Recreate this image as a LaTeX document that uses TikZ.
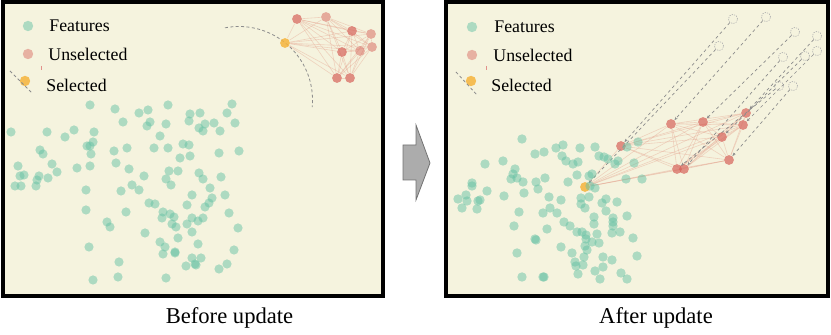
\documentclass[tikz,border=0pt]{standalone}
\usepackage{fontspec}
\setmainfont{Liberation Serif}
\usetikzlibrary{arrows.meta}
\pgfdeclarelayer{back}
\pgfdeclarelayer{bg}
\pgfsetlayers{back,bg,main}
\definecolor{paper}{RGB}{245,243,222}
\definecolor{featgreen}{RGB}{102,194,165}
\definecolor{unsel}{RGB}{214,98,90}
\definecolor{selcol}{RGB}{246,180,60}
\definecolor{edgecol}{RGB}{228,160,140}
\definecolor{ghostgray}{RGB}{120,120,120}
\tikzset{
  panel/.style={draw=black, line width=2pt, fill=paper},
  gfill/.style={fill=featgreen, fill opacity=0.5},
  reddot/.style={circle, inner sep=0pt, minimum size=4.9pt, fill=unsel, fill opacity=0.7, draw=none},
  lightred/.style={reddot, fill opacity=0.5},
  legred/.style={reddot, minimum size=5.2pt, fill opacity=0.45},
  seldot/.style={circle, inner sep=0pt, minimum size=4.9pt, fill=selcol, fill opacity=0.85, draw=none},
  legsel/.style={seldot, minimum size=5.2pt},
  ghost/.style={circle, inner sep=0pt, minimum size=4.6pt, draw=ghostgray!60, line width=0.3pt, dash pattern=on 0.6pt off 0.6pt},
  cedge/.style={draw=edgecol, line width=0.3pt, draw opacity=0.4},
  moveline/.style={draw=ghostgray!85, line width=0.35pt, dash pattern=on 1.5pt off 1.5pt, -{Stealth[length=1.6pt,width=1.4pt]}},
  arcline/.style={draw=ghostgray!85, line width=0.4pt, dash pattern=on 1.5pt off 1.2pt},
  legtext/.style={anchor=base west, inner sep=0pt, font=\fontsize{8.9}{10}\selectfont},
  captext/.style={anchor=base, inner sep=0pt, font=\fontsize{11.3}{13}\selectfont},
}
\begin{document}
\begin{tikzpicture}[x=0.5pt, y=-0.5pt]
\useasboundingbox (0,0) rectangle (831,335);
% panels
\begin{pgfonlayer}{back}
\draw[panel] (2.5,2.5) rectangle (383,296);
\draw[panel] (446,2.5) rectangle (828,296);
\end{pgfonlayer}
% middle arrow
\draw[fill=gray!65, draw=gray!90!black, line width=0.4pt] (403,145) -- (416,145) -- (416,125) -- (430,163) -- (416,200) -- (416,180) -- (403,180) -- cycle;
% captions
\node[captext] (capA) at (229.5,323.5) {Before update};
\node[captext] (capB) at (656,323.5) {After update};
% legends
\fill[gfill] (28,26) circle[radius=2.6pt];
\node[legred] (legUa) at (28,54) {};
\node[legsel] (legSa) at (25,81) {};
\coordinate (dla) at (10,71); \coordinate (dlb) at (32,93);
\draw[arcline] (dla) -- (dlb);
\coordinate (rta) at (41,66); \coordinate (rtb) at (41,70);
\draw[draw=unsel!70, line width=0.5pt] (rta) -- (rtb);
\node[legtext] (legFa) at (49,31.5) {Features};
\node[legtext] (legUta) at (48,60.5) {Unselected};
\node[legtext] (legSta) at (46,91.5) {Selected};
\fill[gfill] (472,27) circle[radius=2.6pt];
\node[legred] (legUb) at (472,55) {};
\node[legsel] (legSb) at (471,81) {};
\coordinate (dlc) at (456,72); \coordinate (dld) at (477,95);
\draw[arcline] (dlc) -- (dld);
\coordinate (rtc) at (486,66); \coordinate (rtd) at (486,70);
\draw[draw=unsel!70, line width=0.5pt] (rtc) -- (rtd);
\node[legtext] (legFb) at (494,32.5) {Features};
\node[legtext] (legUtb) at (493,61.5) {Unselected};
\node[legtext] (legStb) at (491,92) {Selected};
% left dashed arc
\draw[arcline] plot[domain=259:365.5, samples=50] ({239+73.5*cos(\x)},{100+73.5*sin(\x)});
% left cluster
\node[seldot] (L0) at (285,43) {};
\node[reddot] (L1) at (297,19) {};
\node[lightred] (L2) at (326,17) {};
\node[reddot] (L3) at (352,31) {};
\node[lightred] (L4) at (371,34) {};
\node[lightred] (L5) at (372,47) {};
\node[lightred] (L6) at (360,51) {};
\node[reddot] (L7) at (342,52) {};
\node[reddot] (L8) at (337,78) {};
\node[reddot] (L9) at (350,78) {};
% right cluster
\node[seldot] (R0) at (585,187) {};
\node[reddot] (R1) at (621,146) {};
\node[reddot] (R2) at (671,124) {};
\node[reddot] (R3) at (703,122) {};
\node[reddot] (R4) at (746,113) {};
\node[reddot] (R5) at (743,125) {};
\node[reddot] (R6) at (722,137) {};
\node[reddot] (R7) at (684,169) {};
\node[reddot] (R8) at (677,169) {};
\node[reddot] (R9) at (729,160) {};
% ghosts
\node[ghost] (G0) at (719,46) {};
\node[ghost] (G1) at (733,19) {};
\node[ghost] (G2) at (766,17) {};
\node[ghost] (G3) at (795,32) {};
\node[ghost] (G4) at (817,36) {};
\node[ghost] (G5) at (817,51) {};
\node[ghost] (G6) at (805,56) {};
\node[ghost] (G7) at (783,57) {};
\node[ghost] (G8) at (779,86) {};
\node[ghost] (G9) at (793,86) {};
\begin{pgfonlayer}{bg}
\foreach \i in {0,...,9} {
  \foreach \j in {\i,...,9} {
    \ifnum\i<\j
      \draw[cedge] (L\i) -- (L\j);
      \draw[cedge] (R\i) -- (R\j);
    \fi
  }
}
\end{pgfonlayer}
\foreach \i in {0,...,9} {
  \draw[moveline] (G\i) -- (R\i);
}
% left green features
\foreach \x/\y in {90/105,115/109,139/113,148/110,168/105,232/104,200/113,190/114,227/113,123/122,150/122,147/126,166/124,189/121,205/124,214/123,235/123,199/128,203/131,220/131,11/132,47/132,65/137,74/130,94/132,160/136,93/142,87/146,90/146,91/154,114/151,127/148,154/148,168/148,183/144,189/145,219/153,239/151,40/150,43/154,52/164,18/166,24/175,20/176,39/176,37/180,48/178,57/172,15/186,21/186,36/186,77/168,90/166,116/163,129/169,144/176,169/171,178/171,166/179,171/185,180/158,190/156,199/173,203/179,221/177,210/188,86/190,121/191,132/185,139/190,192/195,86/210,126/212,107/222,110/227,149/203,155/204,163/212,170/214,174/217,162/218,172/224,176/227,187/224,192/218,198/221,203/218,187/205,205/207,209/203,212/198,225/195,229/213,238/228,145/233,192/232,178/238,160/242,165/247,163/254,175/252,175/253,198/244,234/250,89/247,119/262,192/258,201/258,195/264,186/266,196/265,219/269,227/264,93/280,118/277,166/278}
  \fill[gfill] (\x,\y) circle[radius=2.3pt];
% right green features
\foreach \x/\y in {522/139,535/154,544/152,556/148,563/145,562/156,566/161,580/148,595/147,599/156,604/157,608/159,618/161,615/164,627/147,638/142,634/163,573/164,578/162,577/175,589/176,592/174,626/179,642/179,485/164,503/161,515/169,513/174,511/179,517/178,523/182,536/182,545/178,538/189,568/182,487/191,472/183,472/186,466/195,458/199,467/201,478/201,480/200,504/196,524/193,549/197,561/200,581/198,589/197,606/199,617/202,590/186,595/188,602/203,462/208,477/209,581/204,585/208,519/212,543/213,550/208,557/213,606/211,594/217,613/218,613/222,613/226,627/216,514/226,547/229,564/222,570/226,594/224,577/232,582/232,586/235,597/234,620/232,612/233,535/239,536/240,586/239,592/242,599/243,585/246,561/247,587/250,633/238,517/253,572/253,584/257,603/257,612/260,637/256,575/262,576/266,583/265,603/267,595/271,578/274,522/277,543/277,544/277,621/273,627/279,600/279}
  \fill[gfill] (\x,\y) circle[radius=2.35pt];
\end{tikzpicture}
\end{document}
